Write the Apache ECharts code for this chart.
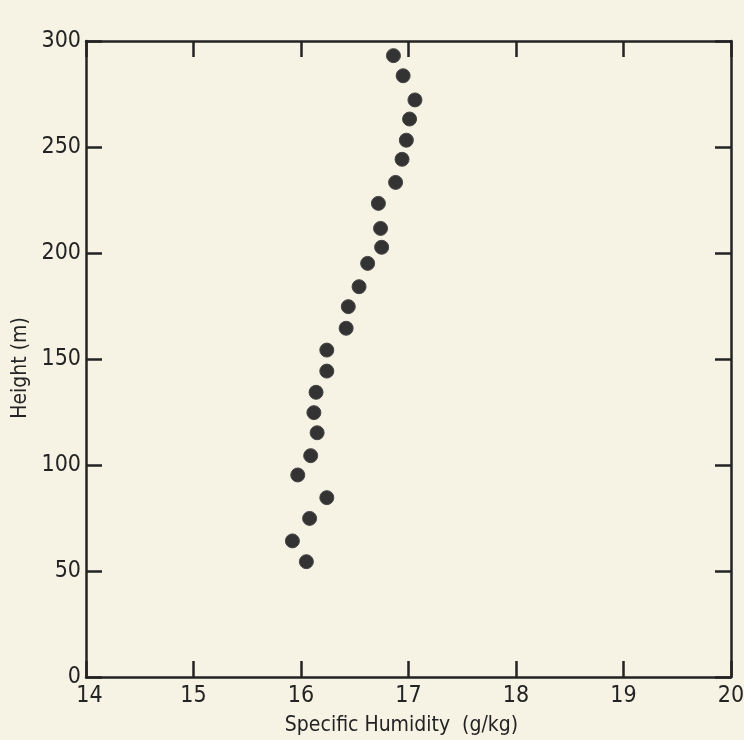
<!DOCTYPE html>
<html>
<head>
<meta charset="utf-8">
<script src="https://cdn.jsdelivr.net/npm/echarts@6/dist/echarts.min.js"></script>
<style>
  html, body { margin: 0; padding: 0; background: #f6f3e5; }
  #chart { width: 744px; height: 740px; }
</style>
</head>
<body>
<div id="chart"></div>
<script>
// Specific humidity profile (g/kg) against height (m)
const heights = [54.4, 64.2, 74.8, 84.6, 95.3, 104.4, 115.2, 124.7, 134.3, 144.3,
                 154.2, 164.5, 174.7, 184.1, 195.1, 202.7, 211.6, 223.4, 233.3, 244.2,
                 253.2, 263.2, 272.2, 283.6, 293.1];
const humidity = [16.05, 15.92, 16.08, 16.24, 15.97, 16.09, 16.15, 16.12, 16.14, 16.24,
                  16.24, 16.42, 16.44, 16.54, 16.62, 16.75, 16.74, 16.72, 16.88, 16.94,
                  16.98, 17.01, 17.06, 16.95, 16.86];

const xTicks = [14, 15, 16, 17, 18, 19, 20];
const yTicks = [0, 50, 100, 150, 200, 250, 300];

const points = humidity.map((h, i) => [h, heights[i]]);

const ink = '#232323';
const font = '"DejaVu Sans Condensed", "Liberation Sans Narrow", sans-serif';

const frameAxis = {
  axisLine: { show: true, onZero: false, lineStyle: { color: ink, width: 2.5 } },
  axisTick: { show: true, inside: true, length: 16, lineStyle: { color: ink, width: 2.5 } },
  splitLine: { show: false }
};

const chart = echarts.init(document.getElementById('chart'), null, { renderer: 'canvas' });
chart.setOption({
  backgroundColor: '#f6f3e5',
  animation: false,
  grid: { left: 86, right: 13, top: 41, bottom: 63, containLabel: false, outerBoundsMode: 'none' },
  xAxis: [
    Object.assign({
      type: 'value', position: 'bottom',
      min: xTicks[0], max: xTicks[xTicks.length - 1], interval: 1,
      name: 'Specific Humidity  (g/kg)',
      nameLocation: 'middle', nameGap: 38,
      nameTextStyle: { fontFamily: font, fontSize: 21, color: ink, padding: [0, 14, 0, 0] },
      axisLabel: {
        show: true, margin: 8, fontFamily: font, fontSize: 23, color: ink,
        // the corner label sits a little to the right of the origin
        formatter: (v) => (v === xTicks[0] ? '{first|' + v + '}' : String(v)),
        rich: { first: { fontFamily: font, fontSize: 23, color: ink, padding: [0, 0, 0, 7] } }
      }
    }, frameAxis),
    Object.assign({
      type: 'value', position: 'top',
      min: xTicks[0], max: xTicks[xTicks.length - 1], interval: 1,
      axisLabel: { show: false }
    }, frameAxis)
  ],
  yAxis: [
    Object.assign({
      type: 'value', position: 'left',
      min: yTicks[0], max: yTicks[yTicks.length - 1], interval: 50,
      name: 'Height (m)',
      nameLocation: 'middle', nameGap: 51, nameRotate: 90,
      nameTextStyle: { fontFamily: font, fontSize: 21, color: ink, padding: [0, 18, 0, 0] },
      axisLabel: { show: true, margin: 5, fontFamily: font, fontSize: 23, color: ink }
    }, frameAxis),
    Object.assign({
      type: 'value', position: 'right',
      min: yTicks[0], max: yTicks[yTicks.length - 1], interval: 50,
      axisLabel: { show: false }
    }, frameAxis)
  ],
  series: [{
    type: 'scatter',
    xAxisIndex: 0, yAxisIndex: 0,
    data: points,
    symbol: 'circle',
    symbolSize: 14,
    itemStyle: { color: '#333333', opacity: 1, borderColor: '#454545', borderWidth: 1 }
  }]
});
</script>
</body>
</html>
